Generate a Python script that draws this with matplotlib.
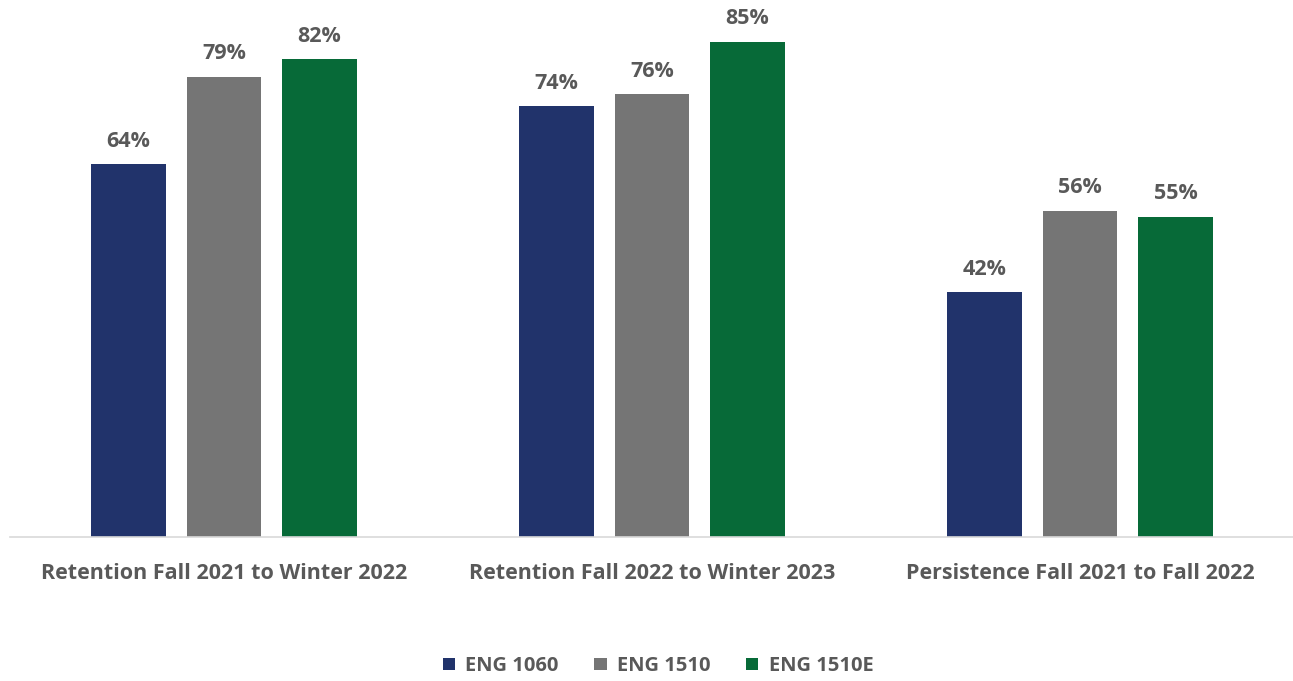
import matplotlib
matplotlib.use("Agg")
import matplotlib.pyplot as plt
import numpy as np

categories = ["Retention Fall 2021 to Winter 2022",
              "Retention Fall 2022 to Winter 2023",
              "Persistence Fall 2021 to Fall 2022"]
series = ["ENG 1060", "ENG 1510", "ENG 1510E"]
eng1060 = [64, 74, 42]
eng1510 = [79, 76, 56]
eng1510e = [82, 85, 55]
colors = ["#21336B", "#757575", "#076A38"]

plt.rcParams['font.family'] = ['Open Sans', 'DejaVu Sans']
W, H = 1293, 681
fig = plt.figure(figsize=(W/100, H/100), dpi=100)
ppu = 495/85
top_px = 537 - 90*ppu
ax = fig.add_axes([10/W, 1-537/H, 1284/W, (537-top_px)/H])

x = np.arange(len(categories))
width = 0.175
step = 0.223
text_color = "#595959"
for i, (vals, name) in enumerate(zip([eng1060, eng1510, eng1510e], series)):
    pos = x + (i-1)*step
    ax.bar(pos, vals, width, color=colors[i], label=name)
    for p, v in zip(pos, vals):
        ax.annotate(f"{v}%", (p, v), xytext=(0, 9), textcoords="offset points",
                    ha="center", va="bottom",
                    fontsize=15.5, fontweight="bold", color=text_color)

ax.set_xlim(-0.5, 2.5)
ax.set_ylim(0, 90)
ax.set_yticks([])
ax.set_xticks(x)
ax.set_xticklabels(categories, fontsize=15.5, fontweight="bold", color=text_color)
ax.tick_params(axis='x', length=0, pad=19)
for s in ["top", "right", "left"]:
    ax.spines[s].set_visible(False)
ax.spines["bottom"].set_color("#D9D9D9")
ax.spines["bottom"].set_linewidth(1.2)

leg = fig.legend(loc="center", bbox_to_anchor=(658/W, 1-666/H), ncol=3,
                 frameon=False, handlelength=0.6, handleheight=0.6,
                 columnspacing=1.8, handletextpad=0.5,
                 prop={'size': 14.5, 'weight': 'bold'})
for t in leg.get_texts():
    t.set_color(text_color)

fig.savefig("out.png", dpi=100)
